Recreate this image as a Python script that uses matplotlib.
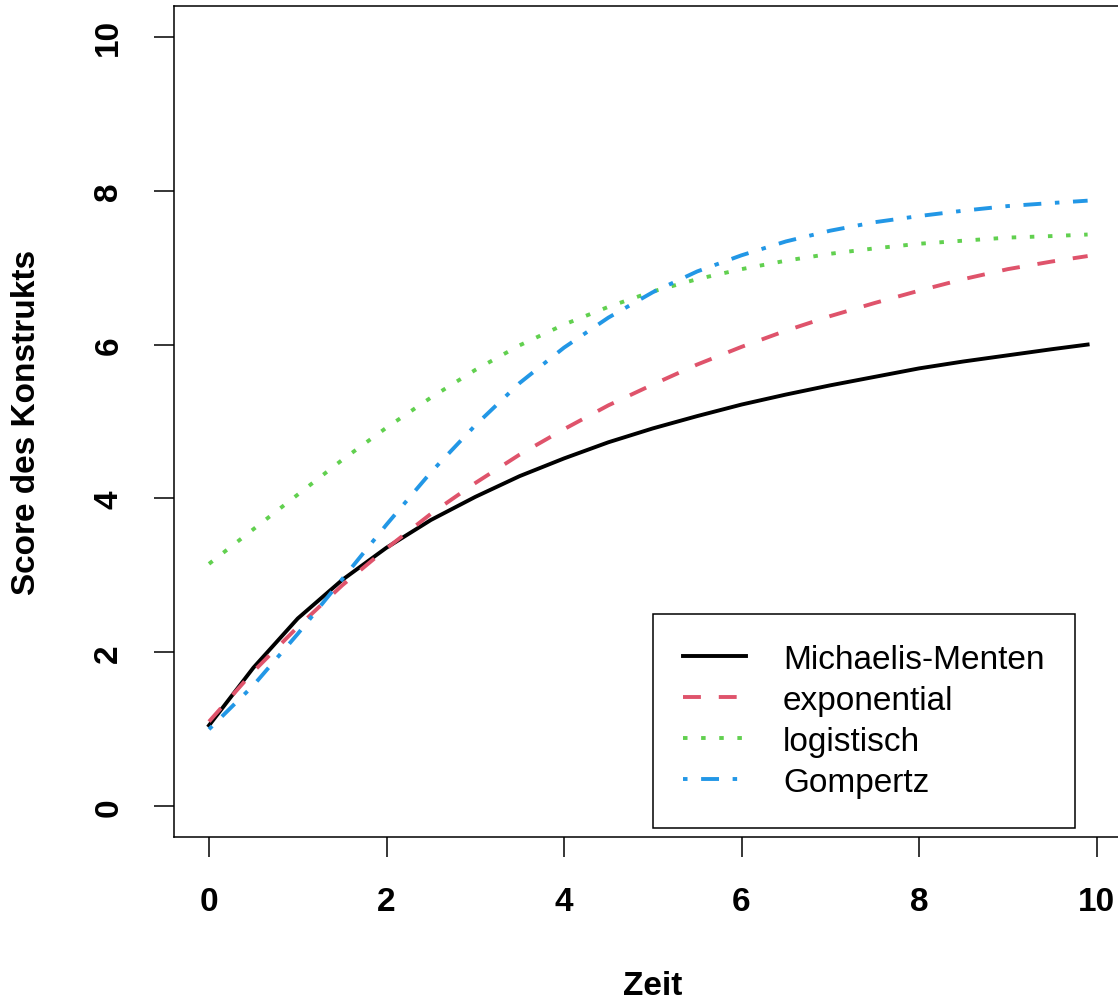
import matplotlib
matplotlib.use('Agg')
import matplotlib.pyplot as plt

plt.rcParams['font.family'] = ['Liberation Sans', 'DejaVu Sans']

# values
zeit = [0.0, 0.5, 1.0, 1.5, 2.0, 2.5, 3.0, 3.5, 4.0, 4.5, 5.0,
        5.5, 6.0, 6.5, 7.0, 7.5, 8.0, 8.5, 9.0, 9.5, 9.9]
michaelis = [1.05, 1.80, 2.44, 2.94, 3.36, 3.72, 4.02, 4.29, 4.52, 4.73, 4.91,
             5.07, 5.22, 5.35, 5.47, 5.58, 5.69, 5.78, 5.86, 5.94, 6.00]
exponential = [1.10, 1.75, 2.33, 2.87, 3.35, 3.80, 4.20, 4.57, 4.90, 5.21, 5.48,
               5.74, 5.97, 6.18, 6.37, 6.54, 6.70, 6.85, 6.98, 7.08, 7.15]
logistisch = [3.15, 3.60, 4.05, 4.50, 4.92, 5.31, 5.67, 5.99, 6.26, 6.49, 6.69,
              6.85, 6.98, 7.09, 7.18, 7.25, 7.31, 7.35, 7.39, 7.41, 7.43]
gompertz = [1.00, 1.57, 2.24, 2.95, 3.66, 4.34, 4.95, 5.50, 5.96, 6.35, 6.68,
            6.95, 7.16, 7.34, 7.48, 7.59, 7.67, 7.74, 7.80, 7.84, 7.87]

names = ['Michaelis-Menten', 'exponential', 'logistisch', 'Gompertz']
colors = ['#000000', '#DF536B', '#61D04F', '#2297E6']
ticks = [0, 2, 4, 6, 8, 10]

W, H = 1118, 1003
fig = plt.figure(figsize=(W / 100, H / 100), dpi=100)
ax = fig.add_axes([173.5 / W, (H - 838) / H, 958.5 / W, 831 / H])

lw = 2.8
ax.plot(zeit, michaelis, color=colors[0], lw=lw, label=names[0])
ax.plot(zeit, exponential, color=colors[1], lw=lw, dashes=(4.6, 4.6), label=names[1])
ax.plot(zeit, logistisch, color=colors[2], lw=lw, dashes=(1.16, 3.5), label=names[2])
ax.plot(zeit, gompertz, color=colors[3], lw=lw, dashes=(1.16, 3.5, 4.6, 3.5), label=names[3])

ax.set_xlim(-0.4, 10.4)
ax.set_ylim(-0.4, 10.4)
ax.set_xticks(ticks)
ax.set_yticks(ticks)
for s in ax.spines.values():
    s.set_linewidth(1.1)
ax.tick_params(length=14.4, width=1.1, pad=21, labelsize=24)
for lab in ax.get_xticklabels():
    lab.set_fontweight('bold')
for lab in ax.get_yticklabels():
    lab.set_fontweight('bold')
    lab.set_rotation(90)
    lab.set_va('center')

ax.set_xlabel('Zeit', fontsize=24, fontweight='bold')
ax.xaxis.label.set_va('center')
ax.xaxis.set_label_coords(0.5, (838 - 987) / 831)
ax.set_ylabel('Score des Konstrukts', fontsize=24, fontweight='bold')
ax.yaxis.label.set_va('center')
ax.yaxis.set_label_coords((27 - 173.5) / 958.5, 0.5)

leg = ax.legend(loc='upper left', bbox_to_anchor=(653 / W, 1 - 615 / H),
                bbox_transform=fig.transFigure, fontsize=24, frameon=True,
                fancybox=False, framealpha=1, edgecolor='black',
                handlelength=1.9, handletextpad=1.1, borderpad=0.9,
                labelspacing=0.3, borderaxespad=0)
leg.get_frame().set_linewidth(1.1)

fig.savefig('out.png', dpi=100)
